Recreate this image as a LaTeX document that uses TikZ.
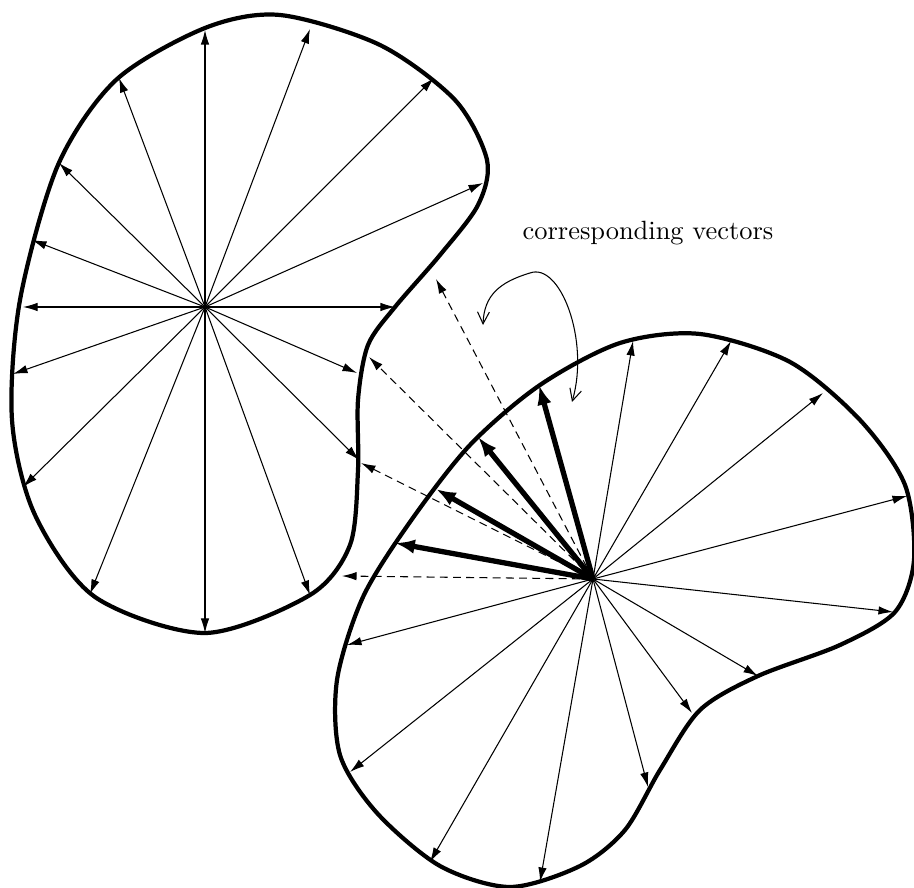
\documentclass[tikz,border=0pt]{standalone}
\usetikzlibrary{arrows.meta}

\begin{document}
\begin{tikzpicture}[x=0.01331cm, y=-0.01331cm,
    blob/.style={line width=1.6pt, line join=round},
    vec/.style={line width=0.4pt, -{Latex[length=5.5pt,width=3.2pt]}},
    thickvec/.style={line width=2pt, -{Latex[length=7.5pt,width=5.5pt]}},
    dashvec/.style={line width=0.4pt, dash pattern=on 3pt off 2pt, -{Latex[length=5.5pt,width=3.2pt]}},
    curlyarrow/.style={line width=0.4pt, {Straight Barb[length=4.5pt,width=4.5pt]}-{Straight Barb[length=4.5pt,width=4.5pt]}}]
    \useasboundingbox (0,0) rectangle (914,888);
    % left region
    \draw[blob] plot[smooth cycle] coordinates {(280,15) (380,45) (455,100) (487,160) (478,205) (440,255)
        (395,307) (368,345) (358,400) (358,470) (350,545) (310,595) (205,633) (95,597) (35,515)
        (12,420) (20,300) (58,165) (116,80) (205,28)};
    \coordinate (cL) at (205,307);
    \foreach \p [count=\i] in {(205,30),(310,29),(434,78),(483,183),(395,307),(357,373),(359,460),(310,595),
        (205,633),(90,594),(23,487),(13,374),(23,307),(32,240),(59,163),(119,78)} {
        \path \p coordinate (l\i);
        \draw[vec] (cL) -- (l\i);
    }
    % right region
    \draw[blob] plot[smooth cycle] coordinates {(363,597) (337,680) (340,755) (377,813) (440,866) (510,887)
        (580,866) (625,830) (660,770) (700,710) (758,676) (840,645) (895,612) (914,560) (905,485)
        (860,420) (790,362) (700,334) (620,343) (540,385) (470,445) (410,522)};
    \coordinate (cR) at (593,579);
    \foreach \p [count=\i] in {(633,341),(731,341),(823,393),(907,496),(893,612),(758,676),(692,713),
        (648,787),(540,882),(430,862),(350,772),(347,645)} {
        \path \p coordinate (r\i);
        \draw[vec] (cR) -- (r\i);
    }
    \foreach \p [count=\i] in {(539,385),(478,437),(436,489),(395,543)} {
        \path \p coordinate (t\i);
        \draw[thickvec] (cR) -- (t\i);
    }
    \foreach \p [count=\i] in {(436,279),(369,357),(361,463),(342,576)} {
        \path \p coordinate (d\i);
        \draw[dashvec] (cR) -- (d\i);
    }
    % label
    \node (lbl) at (648,233) {corresponding vectors};
    \coordinate (cs) at (483,325);
    \coordinate (ct) at (530,273);
    \coordinate (ce) at (572,402);
    \draw[curlyarrow] (cs) .. controls (484,295) and (500,282) .. (ct)
        .. controls (560,262) and (590,340) .. (ce);
\end{tikzpicture}
\end{document}
